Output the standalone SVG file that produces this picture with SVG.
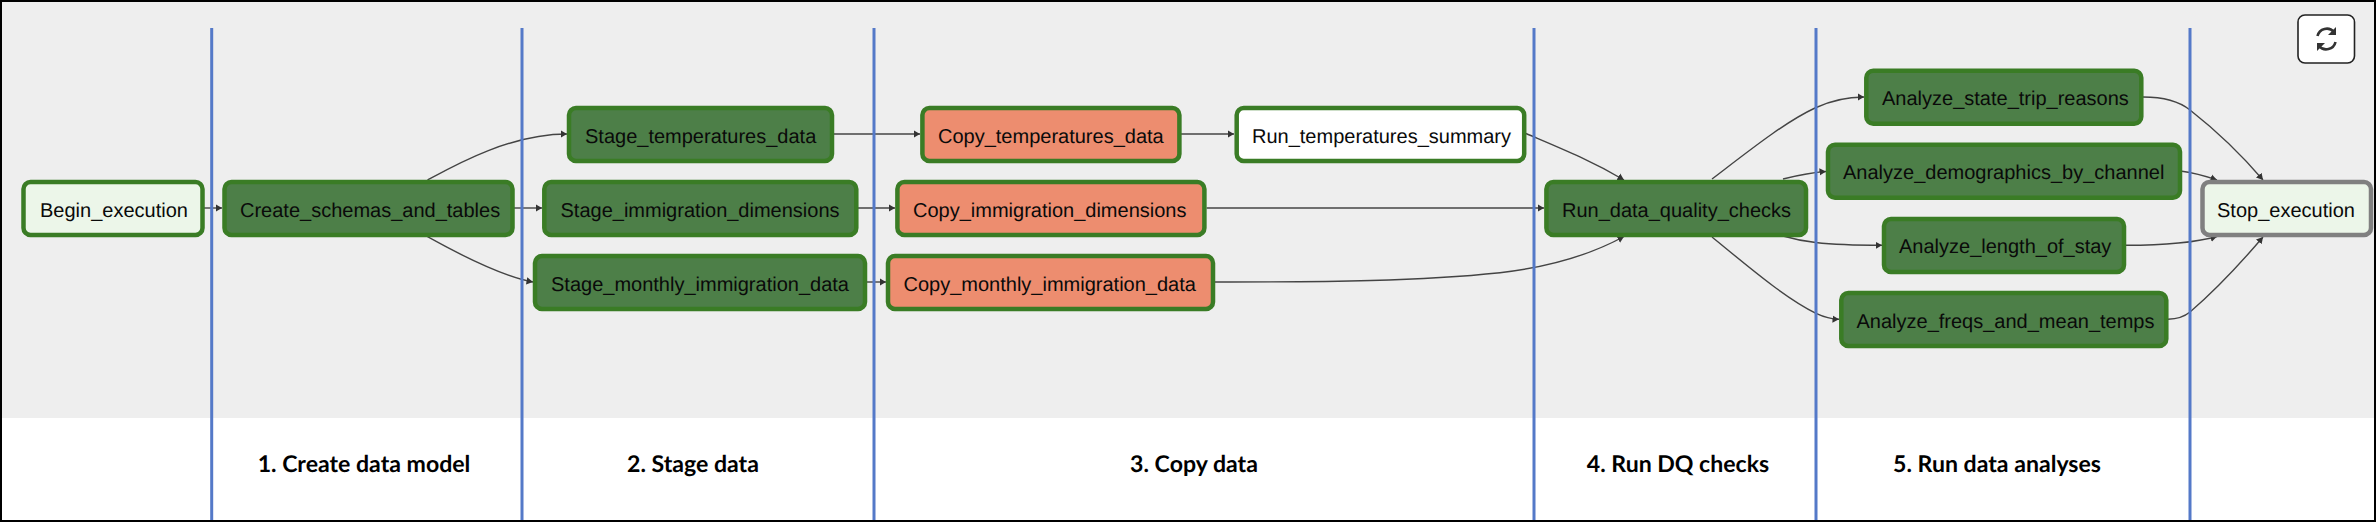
<svg xmlns="http://www.w3.org/2000/svg" width="2376" height="522" viewBox="0 0 2376 522">
<style>
.n rect{stroke:#3a7c25;stroke-width:4.5}
.n text{font-family:"Liberation Sans",Arial,sans-serif;font-size:20px;fill:#0a0a0a;text-rendering:geometricPrecision}
.d rect{fill:#4d7f48}
.o rect{fill:#ed8d6f}
.w rect{fill:#fff}
.l rect{fill:#ecf6e9}
.e path{fill:none;stroke:#444;stroke-width:1.4;marker-end:url(#a)}
.v{stroke:#5479c8;stroke-width:3}
.t{font-family:Lato,"Open Sans",sans-serif;font-weight:700;font-size:23.1px;fill:#000;text-anchor:middle;text-rendering:geometricPrecision}
</style>
<defs><marker id="a" markerUnits="userSpaceOnUse" markerWidth="8" markerHeight="10" refX="6.5" refY="5" orient="auto"><path d="M0 1.3L6.5 5L0 8.7z" fill="#333"/></marker></defs>
<rect x="0" y="0" width="2376" height="522" fill="#fff"/>
<rect x="2" y="2" width="2372" height="416" fill="#eee"/>
<g id="connectors" class="e">
<path d="M204 208H222"/>
<path d="M427.5 180C455 165 510 134 567 134"/>
<path d="M514 208H542"/>
<path d="M427.5 236.7C455 252 500 276 533 282"/>
<path d="M834 134H920"/>
<path d="M858 208H895"/>
<path d="M867 282H886"/>
<path d="M1181 134H1234"/>
<path d="M1526 133.5C1560 148 1590 160 1624 180"/>
<path d="M1206.6 208H1544"/>
<path d="M1215 282C1330 282 1420 281 1500 272.7C1550 267 1590 255 1624 236.5"/>
<path d="M1712 179C1750 150 1785 122 1815 108C1830 101 1845 97 1864 97"/>
<path d="M1783 179C1795 176 1810 172.5 1826 171.5"/>
<path d="M1783 236C1800 241 1820 245.3 1882 245.3"/>
<path d="M1712 237C1750 268 1785 298 1816 313.3C1824 317 1830 319 1839 319.3"/>
<path d="M2143 97C2165 97 2180 102 2190 110C2218 132 2240 153 2263 180"/>
<path d="M2182 171.3C2195 173 2205 176 2217 180"/>
<path d="M2126 245.3C2160 245.3 2190 244 2217 236.5"/>
<path d="M2168 319.3C2178 319 2184 317 2190 312C2218 288 2240 264 2263 237"/>
</g>
<g id="dividers" class="v">
<path d="M211.7 28V520M522 28V520M874 28V520M1534 28V520M1816 28V520M2190 28V520"/>
</g>
<g id="begin_execution" class="n l"><rect x="23.5" y="182" width="179" height="53" rx="7"/><text x="40" y="216.5">Begin_execution</text></g>
<g id="create_schemas_and_tables" class="n d"><rect x="224.5" y="182" width="288" height="53" rx="7"/><text x="240" y="216.5">Create_schemas_and_tables</text></g>
<g id="stage_temperatures_data" class="n d"><rect x="569" y="108" width="263" height="53" rx="7"/><text x="585" y="142.5">Stage_temperatures_data</text></g>
<g id="stage_immigration_dimensions" class="n d"><rect x="544.3" y="182" width="312" height="53" rx="7"/><text x="560.5" y="216.5">Stage_immigration_dimensions</text></g>
<g id="stage_monthly_immigration_data" class="n d"><rect x="535" y="256" width="330" height="53" rx="7"/><text x="551" y="290.5">Stage_monthly_immigration_data</text></g>
<g id="copy_temperatures_data" class="n o"><rect x="922.4" y="108" width="257" height="53" rx="7"/><text x="938" y="142.5">Copy_temperatures_data</text></g>
<g id="copy_immigration_dimensions" class="n o"><rect x="897.4" y="182" width="307" height="53" rx="7"/><text x="913" y="216.5">Copy_immigration_dimensions</text></g>
<g id="copy_monthly_immigration_data" class="n o"><rect x="888" y="256" width="325" height="53" rx="7"/><text x="903.5" y="290.5">Copy_monthly_immigration_data</text></g>
<g id="run_temperatures_summary" class="n w"><rect x="1236.7" y="108" width="287.5" height="53" rx="7"/><text x="1252" y="142.5">Run_temperatures_summary</text></g>
<g id="run_data_quality_checks" class="n d"><rect x="1546.4" y="182" width="259.6" height="53" rx="7"/><text x="1562" y="216.5">Run_data_quality_checks</text></g>
<g id="analyze_state_trip_reasons" class="n d"><rect x="1866.3" y="70.7" width="275" height="53" rx="7"/><text x="1882" y="105">Analyze_state_trip_reasons</text></g>
<g id="analyze_demographics_by_channel" class="n d"><rect x="1828" y="144.7" width="352" height="53" rx="7"/><text x="1843" y="179">Analyze_demographics_by_channel</text></g>
<g id="analyze_length_of_stay" class="n d"><rect x="1884" y="219" width="240" height="53" rx="7"/><text x="1899" y="253">Analyze_length_of_stay</text></g>
<g id="analyze_freqs_and_mean_temps" class="n d"><rect x="1841.3" y="293" width="325" height="53" rx="7"/><text x="1856.5" y="327.5">Analyze_freqs_and_mean_temps</text></g>
<g id="stop_execution" class="n l"><rect x="2202.5" y="182" width="168.5" height="53" rx="7" style="stroke:#808080"/><text x="2217" y="216.5">Stop_execution</text></g>
<g id="phase_labels">
<text class="t" x="364" y="471.5">1. Create data model</text>
<text class="t" x="693" y="471.5">2. Stage data</text>
<text class="t" x="1194" y="471.5">3. Copy data</text>
<text class="t" x="1678" y="471.5">4. Run DQ checks</text>
<text class="t" x="1997" y="471.5">5. Run data analyses</text>
</g>
<g id="refresh_button">
<rect x="2298" y="15" width="56.5" height="48" rx="7" fill="#fff" stroke="#222" stroke-width="1.6"/>
<path d="M2317.5 36A9.5 9.5 0 0 1 2334 32M2335.5 42A9.5 9.5 0 0 1 2319 46" fill="none" stroke="#333" stroke-width="2.6"/>
<path d="M2336 27V35H2328zM2317 51V43H2325z" fill="#333"/>
</g>
<path d="M0 1H2376M0 521H2376M1 0V522M2375 0V522" stroke="#000" stroke-width="2" fill="none"/>
</svg>
